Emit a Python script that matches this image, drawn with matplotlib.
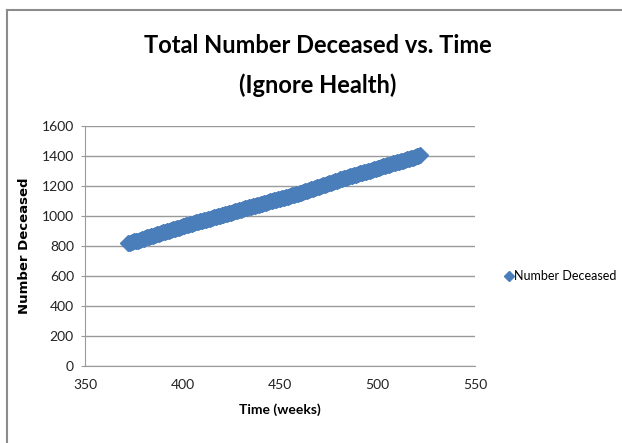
import matplotlib.pyplot as plt
import numpy as np
from matplotlib.lines import Line2D

# weekly totals
weeks = np.arange(372, 523)
deceased = [
    818, 821, 824, 830, 834, 836, 840, 844,
    848, 852, 857, 861, 866, 869, 873, 878, 882, 886,
    890, 895, 899, 902, 906, 911, 915, 919, 922, 926,
    930, 934, 938, 941, 945, 949, 953, 957, 960, 964,
    968, 971, 975, 979, 983, 986, 990, 994, 998, 1001,
    1005, 1008, 1012, 1016, 1019, 1023, 1027, 1031, 1035, 1038,
    1042, 1047, 1051, 1055, 1058, 1061, 1064, 1068, 1071, 1075,
    1078, 1082, 1086, 1089, 1093, 1097, 1101, 1104, 1108, 1111,
    1115, 1118, 1122, 1126, 1129, 1133, 1137, 1140, 1144, 1148,
    1152, 1156, 1160, 1165, 1169, 1173, 1178, 1182, 1186, 1191,
    1195, 1199, 1204, 1208, 1213, 1217, 1222, 1226, 1231, 1235,
    1240, 1244, 1248, 1252, 1256, 1260, 1264, 1268, 1272, 1276,
    1280, 1284, 1288, 1291, 1295, 1299, 1303, 1307, 1310, 1314,
    1318, 1322, 1326, 1330, 1334, 1338, 1342, 1346, 1350, 1354,
    1358, 1362, 1366, 1369, 1373, 1377, 1381, 1385, 1389, 1393,
    1397, 1401, 1405,
]
x_ticks = [350, 400, 450, 500, 550]
y_ticks = [0, 200, 400, 600, 800, 1000, 1200, 1400, 1600]

blue = "#4a7ebb"
grid_gray = "#9a9a9a"
font = ["Lato", "DejaVu Sans"]

fig = plt.figure(figsize=(6.22, 4.43), dpi=100)
ax = fig.add_axes([0.1367, 0.1738, 0.627, 0.5418])

ax.plot(weeks, deceased, linestyle="none", marker="D", markersize=8.5,
        color=blue, markeredgecolor=blue)

ax.set_xlim(350, 550)
ax.set_ylim(0, 1600)
ax.set_xticks(x_ticks)
ax.set_yticks(y_ticks)
ax.grid(axis="y", color=grid_gray, linewidth=1)
ax.set_axisbelow(True)

for side in ["top", "right"]:
    ax.spines[side].set_visible(False)
for side in ["left", "bottom"]:
    ax.spines[side].set_color(grid_gray)

ax.tick_params(axis="y", length=3, color=grid_gray, labelsize=10, pad=5)
ax.tick_params(axis="x", length=0, labelsize=10, pad=9)
for lab in ax.get_xticklabels() + ax.get_yticklabels():
    lab.set_family(font)
    lab.set_color("#222222")

ax.set_xlabel("Time (weeks)", family=font, fontweight="bold", fontsize=10, labelpad=9)
ax.set_ylabel("Number Deceased", fontweight="bold", fontsize=9.5, labelpad=8)

fig.text(0.511, 0.898, "Total Number Deceased vs. Time", ha="center", va="center",
         family=font, fontweight="bold", fontsize=17)
fig.text(0.511, 0.808, "(Ignore Health)", ha="center", va="center",
         family=font, fontweight="bold", fontsize=17)

handle = Line2D([], [], linestyle="none", marker="D", markersize=5.5,
                color=blue, label="Number Deceased")
leg = fig.legend(handles=[handle], loc="center left", bbox_to_anchor=(0.798, 0.377),
                 frameon=False, handlelength=0.6, handletextpad=0.15,
                 borderpad=0.2, prop={"family": font, "size": 9})

# thin outer frame (top and left edges)
fig.add_artist(Line2D([0.0113, 1.0], [0.977, 0.977], color="#8c8c8c", linewidth=1.5,
                      transform=fig.transFigure))
fig.add_artist(Line2D([0.0113, 0.0113], [0.0, 0.977], color="#8c8c8c", linewidth=1.5,
                      transform=fig.transFigure))

fig.savefig("out.png", dpi=100)
